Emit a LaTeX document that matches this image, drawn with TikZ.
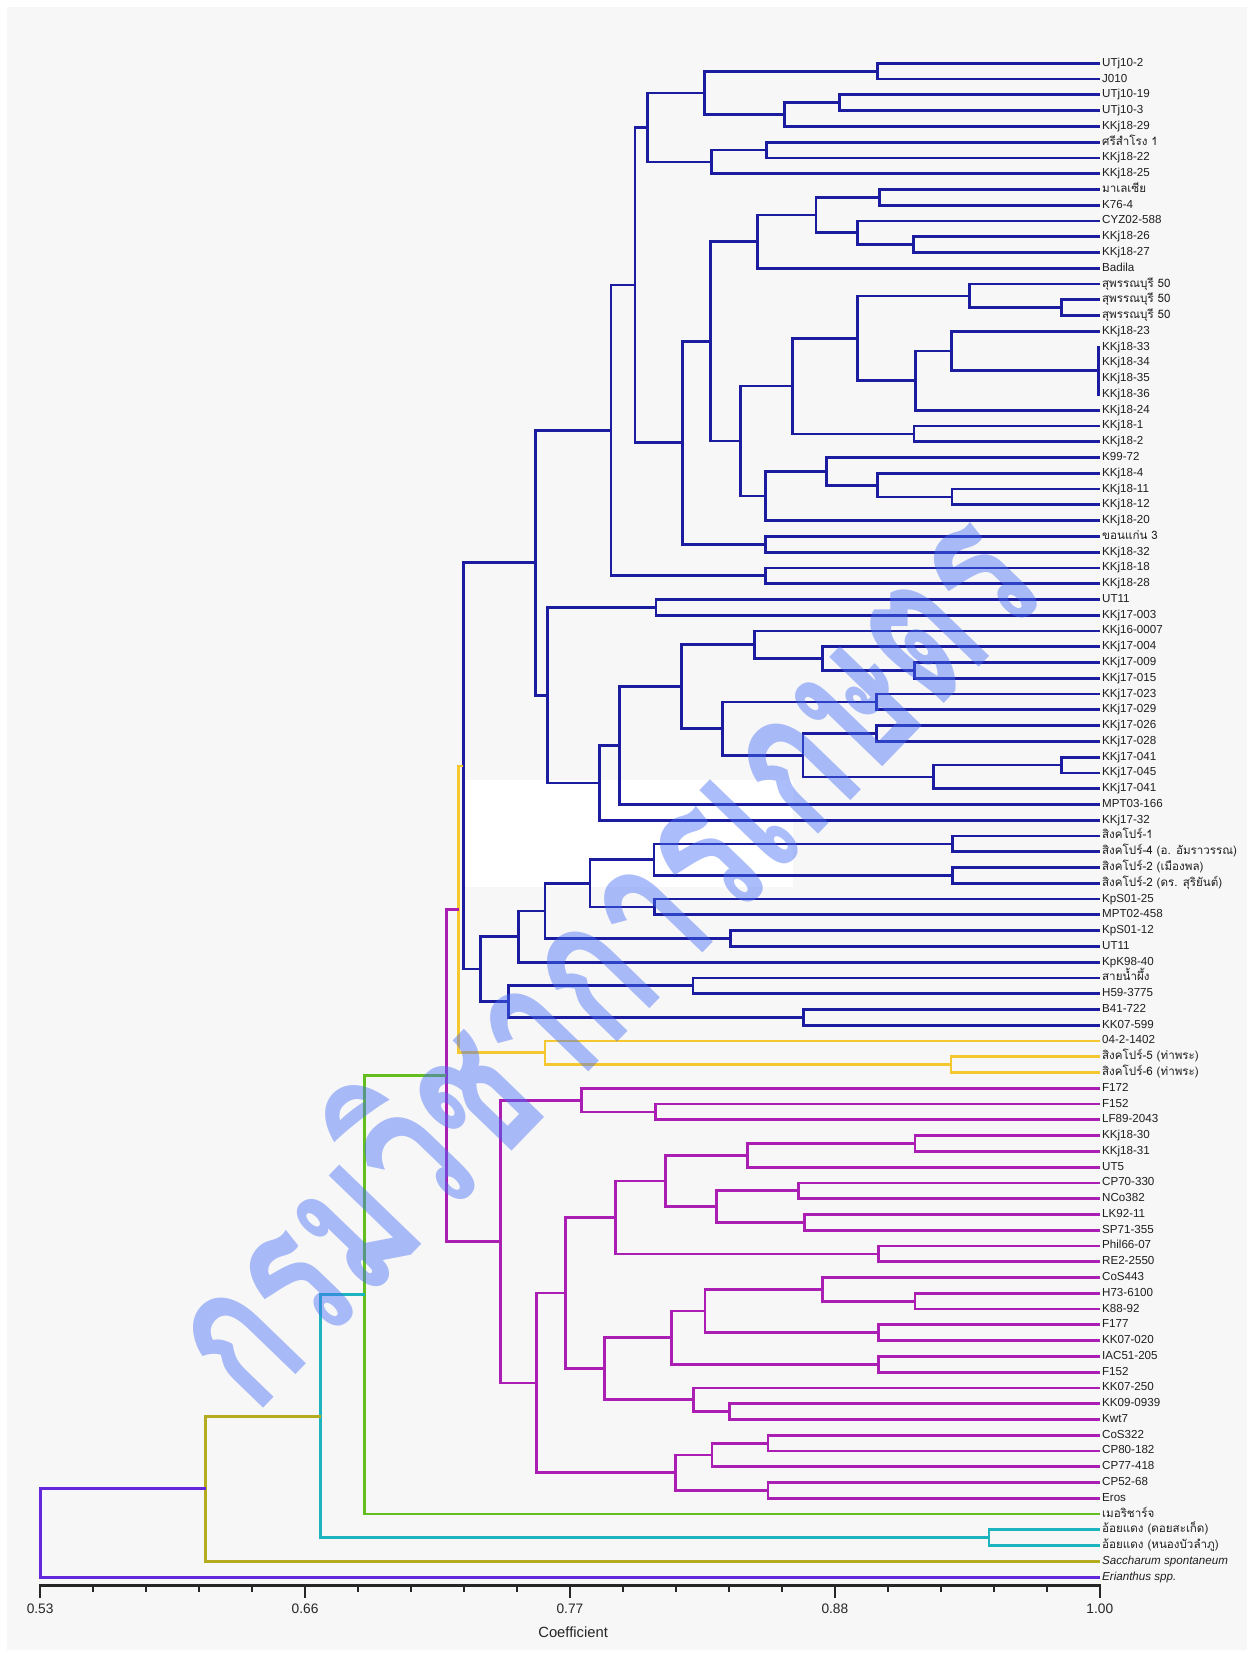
\documentclass[tikz,border=0pt]{standalone}
\usepackage{fontspec}
\setmainfont{Liberation Sans}
\newfontfamily\thai[Script=Thai, Scale=1.0]{Loma}
\newfontfamily\wmfont[Script=Thai]{Loma}
\usetikzlibrary{calc}
\definecolor{cblue}{RGB}{28,28,160}
\definecolor{cyel}{RGB}{245,200,50}
\definecolor{cmag}{RGB}{170,30,180}
\definecolor{cgrn}{RGB}{100,190,30}
\definecolor{ccya}{RGB}{30,180,190}
\definecolor{coli}{RGB}{180,172,30}
\definecolor{cvio}{RGB}{100,40,220}
\definecolor{bggrey}{RGB}{247,247,247}
\definecolor{wm}{RGB}{70,110,245}
\tikzset{
  edge/.style={line width=2.6pt},
  lab/.style={font=\fontsize{11}{12}\selectfont, text=black!88, inner sep=0pt, anchor=base west, text height=7.8pt, text depth=2.2pt},
  axlab/.style={font=\fontsize{13}{14}\selectfont, text=black!85, inner sep=0pt},
}
% name, x, child1, child2, colour
\newcommand\joinnode[5]{%
  \path let \p1=(#3), \p2=(#4) in (#2pt,{0.5*\y1+0.5*\y2}) coordinate (#1);
  \draw[edge,#5] (#3) -| (#1) |- (#4);
}
\begin{document}
\begin{tikzpicture}[x=1pt,y=-1pt]
\useasboundingbox (0,0) rectangle (1186,1568);
\fill[white] (0,0) rectangle (1186,1568);
\fill[bggrey] (7,7) rectangle (1181,1563);
\fill[white] (438,739) rectangle (751,840);
% leaves
\foreach \t [count=\i] in {UTj10-2, J010, UTj10-19, UTj10-3, KKj18-29, {\thai ศรีสำโรง 1}, KKj18-22, KKj18-25, {\thai มาเลเซีย}, K76-4,
  CYZ02-588, KKj18-26, KKj18-27, Badila, {\thai สุพรรณบุรี 50}, {\thai สุพรรณบุรี 50}, {\thai สุพรรณบุรี 50}, KKj18-23, KKj18-33, KKj18-34,
  KKj18-35, KKj18-36, KKj18-24, KKj18-1, KKj18-2, K99-72, KKj18-4, KKj18-11, KKj18-12, KKj18-20,
  {\thai ขอนแก่น 3}, KKj18-32, KKj18-18, KKj18-28, UT11, KKj17-003, KKj16-0007, KKj17-004, KKj17-009, KKj17-015,
  KKj17-023, KKj17-029, KKj17-026, KKj17-028, KKj17-041, KKj17-045, KKj17-041, MPT03-166, KKj17-32, {\thai สิงคโปร์-1},
  {\thai สิงคโปร์-4 (อ. อัมราวรรณ)}, {\thai สิงคโปร์-2 (เมืองพล)}, {\thai สิงคโปร์-2 (ดร. สุริยันต์)}, KpS01-25, MPT02-458, KpS01-12, UT11, KpK98-40, {\thai สายน้ำผึ้ง}, H59-3775,
  B41-722, KK07-599, 04-2-1402, {\thai สิงคโปร์-5 (ท่าพระ)}, {\thai สิงคโปร์-6 (ท่าพระ)}, F172, F152, LF89-2043, KKj18-30, KKj18-31,
  UT5, CP70-330, NCo382, LK92-11, SP71-355, Phil66-07, RE2-2550, CoS443, H73-6100, K88-92,
  F177, KK07-020, IAC51-205, F152, KK07-250, KK09-0939, Kwt7, CoS322, CP80-182, CP77-418,
  CP52-68, Eros, {\thai เมอริชาร์จ}, {\thai อ้อยแดง (ดอยสะเก็ด)}, {\thai อ้อยแดง (หนองบัวลำภู)}, {\itshape Saccharum spontaneum}, {\itshape Erianthus spp.}} {
  \coordinate (l\i) at (1042,{60+(\i-1)*14.94});
  \node[lab] (t\i) at (1044,{62.8+(\i-1)*14.94}) {\t};
}
% ---- blue cluster
\joinnode{A1}{831.4}{l1}{l2}{cblue}
\joinnode{A2}{795.7}{l3}{l4}{cblue}
\joinnode{A3}{743.6}{A2}{l5}{cblue}
\joinnode{A4}{667.8}{A1}{A3}{cblue}
\joinnode{A5}{726.2}{l6}{l7}{cblue}
\joinnode{A6}{674.1}{A5}{l8}{cblue}
\joinnode{A7}{613.5}{A4}{A6}{cblue}
\joinnode{B1}{833}{l9}{l10}{cblue}
\joinnode{B2}{865.8}{l12}{l13}{cblue}
\joinnode{B3}{812.4}{l11}{B2}{cblue}
\joinnode{B4}{773}{B1}{B3}{cblue}
\joinnode{B5}{717.7}{B4}{l14}{cblue}
\joinnode{C1}{1005.6}{l16}{l17}{cblue}
\joinnode{C2}{918.2}{l15}{C1}{cblue}
\joinnode{D1}{1041}{l19}{l22}{cblue}
\joinnode{D2}{901.5}{l18}{D1}{cblue}
\joinnode{D3}{867.4}{D2}{l23}{cblue}
\joinnode{D4}{812.4}{C2}{D3}{cblue}
\joinnode{D5}{866}{l24}{l25}{cblue}
\joinnode{D6}{750.8}{D4}{D5}{cblue}
\joinnode{E1}{902}{l28}{l29}{cblue}
\joinnode{E2}{831.4}{l27}{E1}{cblue}
\joinnode{E3}{783}{l26}{E2}{cblue}
\joinnode{E4}{725.3}{E3}{l30}{cblue}
\joinnode{D7}{701.6}{D6}{E4}{cblue}
\joinnode{F1}{673.2}{B5}{D7}{cblue}
\joinnode{G1}{725.3}{l31}{l32}{cblue}
\joinnode{F2}{646.6}{F1}{G1}{cblue}
\joinnode{A8}{601.5}{A7}{F2}{cblue}
\joinnode{G2}{725.3}{l33}{l34}{cblue}
\joinnode{H1}{578.8}{A8}{G2}{cblue}
\joinnode{I1}{621.4}{l35}{l36}{cblue}
\joinnode{K3}{866.4}{l39}{l40}{cblue}
\joinnode{K2}{779.6}{l38}{K3}{cblue}
\joinnode{K1}{714.6}{l37}{K2}{cblue}
\joinnode{K6}{830.2}{l41}{l42}{cblue}
\joinnode{K8}{830.2}{l43}{l44}{cblue}
\joinnode{K10}{1005.6}{l45}{l46}{cblue}
\joinnode{K9}{884.4}{K10}{l47}{cblue}
\joinnode{K7}{760.8}{K8}{K9}{cblue}
\joinnode{K5}{684.7}{K6}{K7}{cblue}
\joinnode{K4}{646}{K1}{K5}{cblue}
\joinnode{K11}{587}{K4}{l48}{cblue}
\joinnode{K12}{568.3}{K11}{l49}{cblue}
\joinnode{J2}{518.4}{I1}{K12}{cblue}
\joinnode{J1}{507.3}{H1}{J2}{cblue}
\joinnode{L9}{902.2}{l50}{l51}{cblue}
\joinnode{L10}{902.2}{l52}{l53}{cblue}
\joinnode{L7}{619.7}{L9}{L10}{cblue}
\joinnode{L8}{620.4}{l54}{l55}{cblue}
\joinnode{L5}{558.9}{L7}{L8}{cblue}
\joinnode{L6}{692.4}{l56}{l57}{cblue}
\joinnode{L4}{516.3}{L5}{L6}{cblue}
\joinnode{L2}{491}{L4}{l58}{cblue}
\joinnode{L11}{656.6}{l59}{l60}{cblue}
\joinnode{L12}{761.4}{l61}{l62}{cblue}
\joinnode{L3}{482}{L11}{L12}{cblue}
\joinnode{L1}{455.3}{L2}{L3}{cblue}
\joinnode{L0}{439}{J1}{L1}{cblue}
% ---- yellow
\joinnode{Y2}{901}{l64}{l65}{cyel}
\joinnode{Y1}{516.3}{l63}{Y2}{cyel}
\joinnode{Y0}{434.5}{L0}{Y1}{cyel}
% ---- magenta
\joinnode{Q3}{621}{l67}{l68}{cmag}
\joinnode{Q1}{551}{l66}{Q3}{cmag}
\joinnode{U3}{867}{l69}{l70}{cmag}
\joinnode{U1}{708.5}{U3}{l71}{cmag}
\joinnode{U4}{756.6}{l72}{l73}{cmag}
\joinnode{U5}{762}{l74}{l75}{cmag}
\joinnode{U2}{678.7}{U4}{U5}{cmag}
\joinnode{T1}{630.5}{U1}{U2}{cmag}
\joinnode{T2}{832.6}{l76}{l77}{cmag}
\joinnode{S1}{583}{T1}{T2}{cmag}
\joinnode{V7}{867}{l79}{l80}{cmag}
\joinnode{V5}{779.5}{l78}{V7}{cmag}
\joinnode{V6}{832}{l81}{l82}{cmag}
\joinnode{V3}{668}{V5}{V6}{cmag}
\joinnode{V4}{832}{l83}{l84}{cmag}
\joinnode{V1}{636}{V3}{V4}{cmag}
\joinnode{V8}{691}{l86}{l87}{cmag}
\joinnode{V2}{657}{l85}{V8}{cmag}
\joinnode{S2}{573}{V1}{V2}{cmag}
\joinnode{R1}{536}{S1}{S2}{cmag}
\joinnode{W3}{727.6}{l88}{l89}{cmag}
\joinnode{W1}{674.5}{W3}{l90}{cmag}
\joinnode{W2}{727.6}{l91}{l92}{cmag}
\joinnode{R2}{640}{W1}{W2}{cmag}
\joinnode{Q2}{508}{R1}{R2}{cmag}
\joinnode{P0}{474}{Q1}{Q2}{cmag}
\joinnode{M0}{423}{Y0}{P0}{cmag}
% ---- outer groups
\joinnode{GR}{345.5}{M0}{l93}{cgrn}
\joinnode{CY1}{937}{l94}{l95}{ccya}
\joinnode{CY}{303.7}{GR}{CY1}{ccya}
\joinnode{OL}{194.7}{CY}{l96}{coli}
\joinnode{RT}{38.5}{OL}{l97}{cvio}
% ---- axis
\coordinate (ax0) at (37,1502);
\coordinate (ax1) at (1043,1502);
\draw[line width=3pt, black!85] (ax0) -- (ax1);
\foreach \k in {1,2,3,4,6,7,8,9,11,12,13,14,16,17,18,19}
  \draw[line width=1.6pt, black!85] ({38+\k*50.2},1502) -- ({38+\k*50.2},1508);
\foreach \k/\v in {0/0.53,5/0.66,10/0.77,15/0.88,20/1.00} {
  \draw[line width=1.8pt, black!85] ({38+\k*50.2},1502) -- ({38+\k*50.2},1514);
  \node[axlab] (tick\k) at ({38+\k*50.2},1524) {\v};
}
\node[axlab, font=\fontsize{14}{15}\selectfont] (axtitle) at (543,1546) {Coefficient};
% ---- watermark
\node[rotate=46, yscale=1.45, text=wm, text opacity=0.45, inner sep=0pt] (wmark) at (561,898)
  {\wmfont\bfseries\fontsize{134}{134}\selectfont กรมวิชาการเกษตร};
\end{tikzpicture}
\end{document}
